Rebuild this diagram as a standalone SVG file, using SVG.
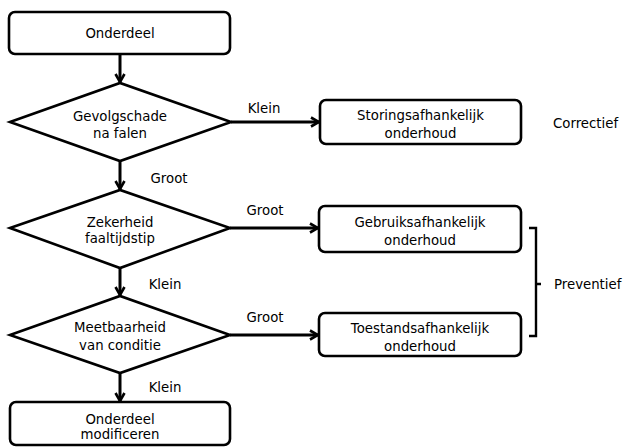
<svg xmlns="http://www.w3.org/2000/svg" width="623" height="447" viewBox="0 0 623 447">
  <defs>
    <marker id="head" viewBox="0 0 12 12" refX="10" refY="6" markerWidth="12" markerHeight="12" markerUnits="userSpaceOnUse" orient="auto">
      <path d="M2,1.5 L10,6 L2,10.5" fill="none" stroke="#000" stroke-width="2.6" stroke-linejoin="miter"/>
    </marker>
  </defs>
  <style>
    .box { fill: #fff; stroke: #000; stroke-width: 2.6; }
    .link { fill: none; stroke: #000; stroke-width: 3; marker-end: url(#head); }
    .brace { fill: none; stroke: #000; stroke-width: 2.4; }
    text { font-family: "DejaVu Sans", Verdana, sans-serif; font-size: 13.3px; fill: #000; }
    .c { text-anchor: middle; }
  </style>
  <rect width="623" height="447" fill="#fff"/>

  <!-- connectors -->
  <g id="connectors">
    <line class="link" x1="120" y1="54" x2="120" y2="82"/>
    <line class="link" x1="120" y1="161" x2="120" y2="189"/>
    <line class="link" x1="120" y1="268" x2="120" y2="295"/>
    <line class="link" x1="120" y1="373" x2="120" y2="401"/>
    <line class="link" x1="231" y1="122" x2="319" y2="122"/>
    <line class="link" x1="230" y1="228" x2="318" y2="228"/>
    <line class="link" x1="230" y1="335" x2="318" y2="335"/>
    <text x="264" y="113" class="c">Klein</text>
    <text x="169" y="183" class="c">Groot</text>
    <text x="265" y="215" class="c">Groot</text>
    <text x="165" y="289" class="c">Klein</text>
    <text x="265" y="322" class="c">Groot</text>
    <text x="165" y="392" class="c">Klein</text>
  </g>

  <g id="n-onderdeel">
    <rect class="box" x="9" y="12" width="221" height="42" rx="6"/>
    <text x="120" y="38" class="c">Onderdeel</text>
  </g>

  <g id="n-gevolgschade">
    <polygon class="box" points="10,122 120,83 231,122 120,161"/>
    <text x="120" y="121" class="c">Gevolgschade</text>
    <text x="120" y="138" class="c">na falen</text>
  </g>

  <g id="n-zekerheid">
    <polygon class="box" points="10,228 120,190 230,228 120,268"/>
    <text x="120" y="227" class="c">Zekerheid</text>
    <text x="120" y="243" class="c">faaltijdstip</text>
  </g>

  <g id="n-meetbaarheid">
    <polygon class="box" points="10,335 120,296 230,335 120,373"/>
    <text x="120" y="332" class="c">Meetbaarheid</text>
    <text x="120" y="350" class="c">van conditie</text>
  </g>

  <g id="n-modificeren">
    <rect class="box" x="10" y="402" width="220" height="43" rx="6"/>
    <text x="120" y="424" class="c">Onderdeel</text>
    <text x="120" y="439" class="c">modificeren</text>
  </g>

  <g id="n-storings">
    <rect class="box" x="320" y="100" width="201" height="44" rx="6"/>
    <text x="420.5" y="120" class="c">Storingsafhankelijk</text>
    <text x="420.5" y="138" class="c">onderhoud</text>
  </g>

  <g id="n-gebruiks">
    <rect class="box" x="319" y="206" width="202" height="46" rx="6"/>
    <text x="420" y="227" class="c">Gebruiksafhankelijk</text>
    <text x="420" y="245" class="c">onderhoud</text>
  </g>

  <g id="n-toestands">
    <rect class="box" x="319" y="313" width="202" height="43" rx="6"/>
    <text x="420" y="333" class="c">Toestandsafhankelijk</text>
    <text x="420" y="351" class="c">onderhoud</text>
  </g>

  <g id="n-correctief">
    <text x="553" y="128">Correctief</text>
  </g>

  <g id="n-preventief">
    <path class="brace" d="M529,228 H536 V336 H529 M536,284 H541"/>
    <text x="554" y="289">Preventief</text>
  </g>
</svg>
